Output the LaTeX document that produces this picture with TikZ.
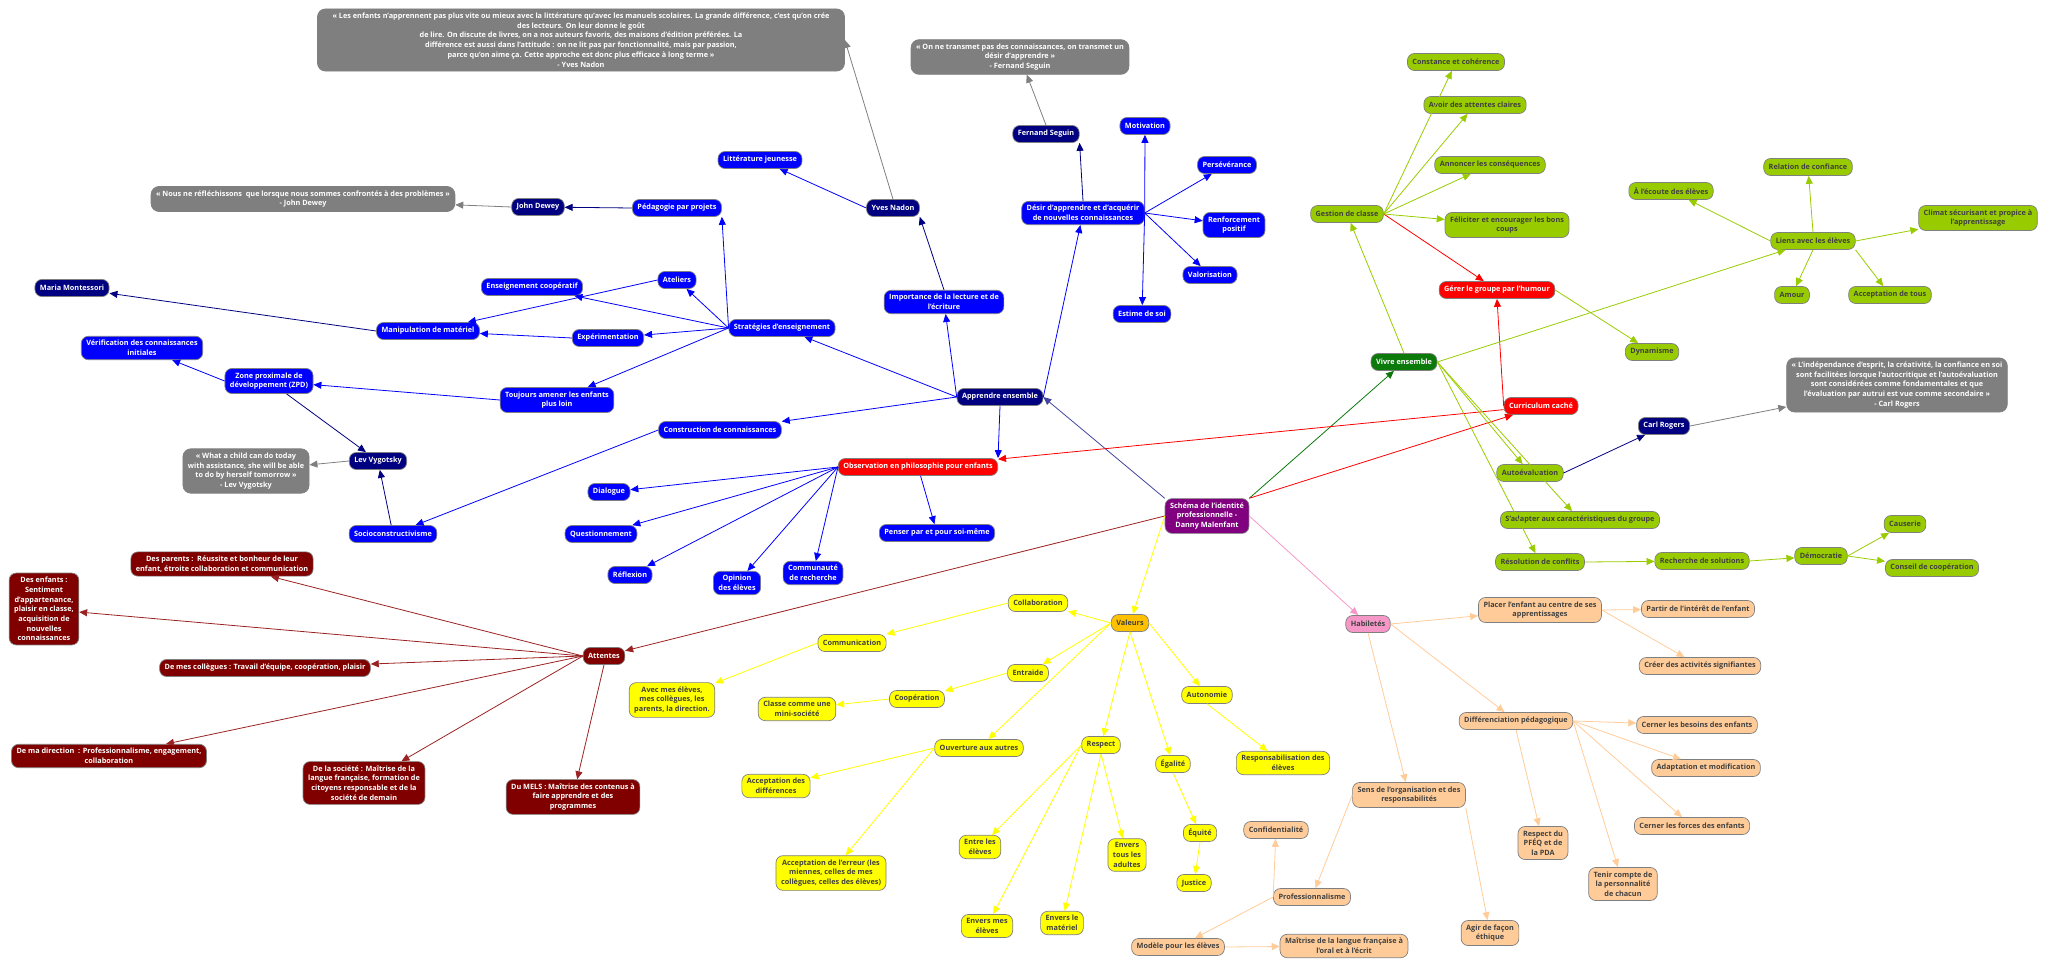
\documentclass[tikz,border=0pt]{standalone}
\usepackage{fontspec}
\setmainfont{Open Sans}
\usetikzlibrary{arrows.meta}

\definecolor{boxline}{HTML}{7F7F7F}
\definecolor{cnavy}{HTML}{000080}
\definecolor{cblue}{HTML}{0000FF}
\definecolor{cquote}{HTML}{7F7F7F}
\definecolor{cred}{HTML}{FF0000}
\definecolor{cmaroon}{HTML}{800000}
\definecolor{cmaroonline}{HTML}{9A2222}
\definecolor{croot}{HTML}{800080}
\definecolor{cgreen}{HTML}{0B7A0B}
\definecolor{clime}{HTML}{99CC00}
\definecolor{cyellow}{HTML}{FFFF00}
\definecolor{camber}{HTML}{FFC000}
\definecolor{cpink}{HTML}{F598C8}
\definecolor{cpeach}{HTML}{FFCC99}
\definecolor{cslate}{HTML}{4444A0}
\definecolor{darktext}{HTML}{404040}

\tikzset{
  box/.style={draw=boxline, line width=0.7pt, rounded corners=7pt, inner xsep=5pt, inner ysep=4pt,
    minimum height=17pt, align=center, font=\bfseries\fontsize{7.3}{9.7}\selectfont},
  navybox/.style={box, fill=cnavy, text=white},
  bluebox/.style={box, fill=cblue, text=white},
  quotebox/.style={box, fill=cquote, text=white, rounded corners=8pt},
  redbox/.style={box, fill=cred, text=white},
  maroonbox/.style={box, fill=cmaroon, text=white},
  rootbox/.style={box, fill=croot, text=white},
  greenbox/.style={box, fill=cgreen, text=white},
  limebox/.style={box, fill=clime, text=darktext},
  yellowbox/.style={box, fill=cyellow, text=darktext},
  amberbox/.style={box, fill=camber, text=darktext},
  pinkbox/.style={box, fill=cpink, text=darktext},
  peachbox/.style={box, fill=cpeach, text=darktext},
  link/.style={line width=0.8pt, -{Triangle[length=8pt,width=7pt]}},
  navylink/.style={link, cnavy},
  bluelink/.style={link, cblue},
  graylink/.style={link, cquote},
  redlink/.style={link, cred},
  maroonlink/.style={link, cmaroonline},
  greenlink/.style={link, cgreen},
  limelink/.style={link, clime},
  yellowlink/.style={link, cyellow},
  pinklink/.style={link, cpink},
  peachlink/.style={link, cpeach},
}

\begin{document}
\begin{tikzpicture}[x=1pt, y=-1pt]
  \useasboundingbox (0, 0) rectangle (2048, 968);

  % centre
  \node [rootbox] (schema) at (1207, 516) {Schéma de l'identité\\professionnelle -\\Danny Malenfant};

  % apprendre ensemble
  \node [navybox] (appr) at (1000, 397) {Apprendre ensemble};
  \node [bluebox] (strat) at (782, 328) {Stratégies d'enseignement};
  \node [bluebox] (lecture) at (944, 302) {Importance de la lecture et de\\l'écriture};
  \node [bluebox] (desir) at (1083, 213) {Désir d'apprendre et d'acquérir\\de nouvelles connaissances};
  \node [bluebox] (constr) at (720, 430) {Construction de connaissances};
  \node [redbox] (obs) at (918, 467) {Observation en philosophie pour enfants};

  \node [navybox] (nadon) at (893, 208) {Yves Nadon};
  \node [bluebox] (litt) at (760, 160) {Littérature jeunesse};
  \node [quotebox, minimum width=527pt] (qnadon) at (581, 40) {« Les enfants n'apprennent pas plus vite ou mieux avec la littérature qu'avec les manuels scolaires. La grande différence, c'est qu'on crée\\des lecteurs. On leur donne le goût\\de lire. On discute de livres, on a nos auteurs favoris, des maisons d'édition préférées. La\\différence est aussi dans l'attitude : on ne lit pas par fonctionnalité, mais par passion,\\parce qu'on aime ça. Cette approche est donc plus efficace à long terme »\\- Yves Nadon};

  \node [bluebox] (projets) at (677, 208) {Pédagogie par projets};
  \node [navybox] (dewey) at (538, 207) {John Dewey};
  \node [quotebox] (qdewey) at (303, 199) {« Nous ne réfléchissons\ \ que lorsque nous sommes confrontés à des problèmes »\\- John Dewey};

  \node [bluebox] (ateliers) at (677, 280) {Ateliers};
  \node [bluebox] (enscoop) at (532, 287) {Enseignement coopératif};
  \node [bluebox] (exper) at (608, 338) {Expérimentation};
  \node [bluebox] (toujours) at (557, 400) {Toujours amener les enfants\\plus loin};
  \node [bluebox] (manip) at (428, 331) {Manipulation de matériel};
  \node [navybox] (montessori) at (72, 288) {Maria Montessori};
  \node [bluebox] (zpd) at (269, 381) {Zone proximale de\\développement (ZPD)};
  \node [bluebox] (verif) at (142, 348) {Vérification des connaissances\\initiales};
  \node [navybox] (lev) at (378, 461) {Lev Vygotsky};
  \node [quotebox] (qlev) at (246, 471) {« What a child can do today\\with assistance, she will be able\\to do by herself tomorrow »\\- Lev Vygotsky};
  \node [bluebox] (socio) at (393, 534) {Socioconstructivisme};

  \node [navybox] (seguin) at (1046, 134) {Fernand Seguin};
  \node [quotebox] (qseguin) at (1020, 57) {« On ne transmet pas des connaissances, on transmet un\\désir d'apprendre »\\- Fernand Seguin};
  \node [bluebox] (motiv) at (1145, 126) {Motivation};
  \node [bluebox] (perse) at (1227, 165) {Persévérance};
  \node [bluebox] (renfo) at (1234, 225) {Renforcement\\positif};
  \node [bluebox] (valo) at (1210, 275) {Valorisation};
  \node [bluebox] (estime) at (1142, 314) {Estime de soi};

  \node [bluebox] (dialogue) at (609, 492) {Dialogue};
  \node [bluebox] (question) at (601, 534) {Questionnement};
  \node [bluebox] (reflexion) at (630, 575) {Réflexion};
  \node [bluebox] (opinion) at (737, 583) {Opinion\\des élèves};
  \node [bluebox] (commu) at (813, 573) {Communauté\\de recherche};
  \node [bluebox] (penser) at (937, 533) {Penser par et pour soi-même};

  % vivre ensemble
  \node [greenbox] (vivre) at (1404, 362) {Vivre ensemble};
  \node [redbox] (curri) at (1541, 406) {Curriculum caché};
  \node [redbox] (humour) at (1497, 290) {Gérer le groupe par l'humour};
  \node [limebox] (gestion) at (1347, 214) {Gestion de classe};
  \node [limebox] (constance) at (1456, 62) {Constance et cohérence};
  \node [limebox] (claires) at (1475, 105) {Avoir des attentes claires};
  \node [limebox] (annoncer) at (1490, 165) {Annoncer les conséquences};
  \node [limebox] (feliciter) at (1507, 225) {Féliciter et encourager les bons\\coups};
  \node [limebox] (dynam) at (1652, 352) {Dynamisme};
  \node [limebox] (liens) at (1813, 241) {Liens avec les élèves};
  \node [limebox] (relation) at (1808, 167) {Relation de confiance};
  \node [limebox] (ecoute) at (1671, 191) {À l'écoute des élèves};
  \node [limebox] (climat) at (1978, 218) {Climat sécurisant et propice à\\l'apprentissage};
  \node [limebox] (amour) at (1792, 295) {Amour};
  \node [limebox] (acctous) at (1890, 295) {Acceptation de tous};
  \node [limebox] (autoeval) at (1530, 473) {Autoévaluation};
  \node [navybox] (rogers) at (1664, 426) {Carl Rogers};
  \node [quotebox] (qrogers) at (1897, 385) {« L'indépendance d'esprit, la créativité, la confiance en soi\\sont facilitées lorsque l'autocritique et l'autoévaluation\\sont considérées comme fondamentales et que\\l'évaluation par autrui est vue comme secondaire »\\- Carl Rogers};
  \node [limebox] (adapter) at (1580, 520) {S'adapter aux caractéristiques du groupe};
  \node [limebox] (resol) at (1540, 562) {Résolution de conflits};
  \node [limebox] (recherche) at (1702, 561) {Recherche de solutions};
  \node [limebox] (democ) at (1821, 556) {Démocratie};
  \node [limebox] (causerie) at (1905, 524) {Causerie};
  \node [limebox] (conseil) at (1932, 568) {Conseil de coopération};

  % attentes
  \node [maroonbox] (attentes) at (604, 656) {Attentes};
  \node [maroonbox] (parents) at (222, 564) {Des parents :\ \ Réussite et bonheur de leur\\enfant, étroite collaboration et communication};
  \node [maroonbox] (enfants) at (44, 609) {Des enfants :\\Sentiment\\d'appartenance,\\plaisir en classe,\\acquisition de\\nouvelles\\connaissances};
  \node [maroonbox] (collegues) at (265, 668) {De mes collègues : Travail d'équipe, coopération, plaisir};
  \node [maroonbox] (direction) at (109, 756) {De ma direction\ \ : Professionnalisme, engagement,\\collaboration};
  \node [maroonbox] (societe) at (364, 783) {De la société : Maîtrise de la\\langue française, formation de\\citoyens responsable et de la\\société de demain};
  \node [maroonbox] (mels) at (573, 797) {Du MELS : Maîtrise des contenus à\\faire apprendre et des\\programmes};

  % valeurs
  \node [amberbox] (valeurs) at (1130, 623) {Valeurs};
  \node [yellowbox] (collab) at (1038, 603) {Collaboration};
  \node [yellowbox] (communic) at (852, 643) {Communication};
  \node [yellowbox] (avec) at (672, 700) {Avec mes élèves,\\mes collègues, les\\parents, la direction.};
  \node [yellowbox] (entraide) at (1028, 673) {Entraide};
  \node [yellowbox] (cooper) at (917, 699) {Coopération};
  \node [yellowbox] (classe) at (797, 709) {Classe comme une\\mini-société};
  \node [yellowbox] (ouvert) at (979, 748) {Ouverture aux autres};
  \node [yellowbox] (accdiff) at (776, 786) {Acceptation des\\différences};
  \node [yellowbox] (accerr) at (831, 873) {Acceptation de l'erreur (les\\miennes, celles de mes\\collègues, celles des élèves)};
  \node [yellowbox] (respect) at (1101, 745) {Respect};
  \node [yellowbox] (entre) at (980, 847) {Entre les\\élèves};
  \node [yellowbox] (enversmes) at (987, 926) {Envers mes\\élèves};
  \node [yellowbox] (enversmat) at (1062, 923) {Envers le\\matériel};
  \node [yellowbox] (adultes) at (1127, 855) {Envers\\tous les\\adultes};
  \node [yellowbox] (egalite) at (1173, 764) {Égalité};
  \node [yellowbox] (equite) at (1200, 833) {Équité};
  \node [yellowbox] (justice) at (1194, 883) {Justice};
  \node [yellowbox] (autonomie) at (1207, 695) {Autonomie};
  \node [yellowbox] (respons) at (1283, 763) {Responsabilisation des\\élèves};

  % habiletes
  \node [pinkbox] (habil) at (1368, 624) {Habiletés};
  \node [peachbox] (placer) at (1540, 610) {Placer l'enfant au centre de ses\\apprentissages};
  \node [peachbox] (partir) at (1698, 609) {Partir de l'intérêt de l'enfant};
  \node [peachbox] (creer) at (1700, 666) {Créer des activités signifiantes};
  \node [peachbox] (diff) at (1516, 721) {Différenciation pédagogique};
  \node [peachbox] (besoins) at (1697, 725) {Cerner les besoins des enfants};
  \node [peachbox] (adapt) at (1706, 768) {Adaptation et modification};
  \node [peachbox] (forces) at (1692, 826) {Cerner les forces des enfants};
  \node [peachbox] (tenir) at (1623, 884) {Tenir compte de\\la personnalité\\de chacun};
  \node [peachbox] (pfeq) at (1543, 843) {Respect du\\PFÉQ et de\\la PDA};
  \node [peachbox] (sens) at (1409, 795) {Sens de l'organisation et des\\responsabilités};
  \node [peachbox] (ethique) at (1490, 933) {Agir de façon\\éthique};
  \node [peachbox] (profess) at (1312, 897) {Professionnalisme};
  \node [peachbox] (confid) at (1276, 830) {Confidentialité};
  \node [peachbox] (modele) at (1178, 947) {Modèle pour les élèves};
  \node [peachbox] (maitrise) at (1344, 946) {Maîtrise de la langue française à\\l'oral et à l'écrit};

  % liens apprendre ensemble
  \draw [link, cslate] (schema.north west) -- (appr.east);
  \draw [bluelink] (appr.west) -- (strat);
  \draw [bluelink] (appr.west) -- (lecture);
  \draw [bluelink] (appr.east) -- (desir);
  \draw [bluelink] (appr.west) -- (constr);
  \draw [bluelink] (appr.south) -- (obs.north east);
  \draw [navylink] (lecture.north) -- (nadon.south east);
  \draw [bluelink] (nadon.west) -- (litt);
  \draw [graylink] (nadon.north) -- (qnadon.east);
  \draw [bluelink] (strat.west) -- (projets.south east);
  \draw [navylink] (projets.west) -- (dewey);
  \draw [graylink] (dewey.west) -- (qdewey);
  \draw [bluelink] (strat.west) -- (ateliers);
  \draw [bluelink] (strat.west) -- (enscoop);
  \draw [bluelink] (strat.west) -- (exper);
  \draw [bluelink] (strat.west) -- (toujours);
  \draw [bluelink] (ateliers.west) -- (manip);
  \draw [bluelink] (exper.west) -- (manip);
  \draw [navylink] (manip.west) -- (montessori);
  \draw [bluelink] (toujours.west) -- (zpd);
  \draw [bluelink] (zpd.west) -- (verif);
  \draw [navylink] (zpd) -- (lev);
  \draw [graylink] (lev.west) -- (qlev);
  \draw [navylink] (socio) -- (lev);
  \draw [bluelink] (constr.west) -- (socio);
  \draw [navylink] (desir.north) -- (seguin.south east);
  \draw [graylink] (seguin.north) -- (qseguin);
  \foreach \child in {motiv, perse, renfo, valo, estime}
    \draw [bluelink] (desir.east) -- (\child);
  \foreach \child in {dialogue, question, reflexion, opinion, commu}
    \draw [bluelink] (obs.west) -- (\child);
  \draw [bluelink] (obs) -- (penser);

  % liens vivre ensemble
  \draw [greenlink] (schema.north east) -- (vivre);
  \draw [redlink] (schema.north east) -- (curri);
  \draw [redlink] (curri) -- (obs);
  \draw [redlink] (curri.west) -- (humour.south);
  \draw [redlink] (gestion.east) -- (humour);
  \draw [limelink] (vivre.north) -- (gestion);
  \foreach \child in {constance, claires, annoncer, feliciter}
    \draw [limelink] (gestion.east) -- (\child);
  \draw [limelink] (humour.east) -- (dynam);
  \draw [limelink] (vivre.east) -- (liens);
  \draw [limelink] (liens.north) -- (relation);
  \draw [limelink] (liens.west) -- (ecoute);
  \draw [limelink] (liens.east) -- (climat);
  \draw [limelink] (liens.south) -- (amour);
  \draw [limelink] (liens.south east) -- (acctous);
  \foreach \child in {autoeval, adapter, resol}
    \draw [limelink] (vivre.east) -- (\child);
  \draw [navylink] (autoeval.east) -- (rogers);
  \draw [graylink] (rogers.east) -- (qrogers);
  \draw [limelink] (resol.east) -- (recherche);
  \draw [limelink] (recherche.east) -- (democ);
  \draw [limelink] (democ.east) -- (causerie);
  \draw [limelink] (democ.east) -- (conseil);

  % liens attentes
  \draw [maroonlink] (schema.west) -- (attentes);
  \foreach \child in {parents, enfants, collegues, direction, societe}
    \draw [maroonlink] (attentes.west) -- (\child);
  \draw [maroonlink] (attentes.south) -- (mels);

  % liens valeurs
  \draw [yellowlink] (schema.west) -- (valeurs);
  \foreach \child in {collab, entraide, ouvert}
    \draw [yellowlink] (valeurs.west) -- (\child);
  \draw [yellowlink] (valeurs.south) -- (respect);
  \draw [yellowlink] (valeurs.south) -- (egalite);
  \draw [yellowlink] (valeurs.east) -- (autonomie);
  \draw [yellowlink] (collab.west) -- (communic);
  \draw [yellowlink] (communic.west) -- (avec);
  \draw [yellowlink] (entraide.west) -- (cooper);
  \draw [yellowlink] (cooper.west) -- (classe);
  \draw [yellowlink] (ouvert.west) -- (accdiff);
  \draw [yellowlink] (ouvert.west) -- (accerr);
  \draw [yellowlink] (respect.west) -- (entre);
  \draw [yellowlink] (respect.west) -- (enversmes);
  \draw [yellowlink] (respect.south) -- (enversmat);
  \draw [yellowlink] (respect.south) -- (adultes);
  \draw [yellowlink] (egalite.south) -- (equite);
  \draw [yellowlink] (equite.south) -- (justice);
  \draw [yellowlink] (autonomie.south) -- (respons);

  % liens habiletes
  \draw [pinklink] (schema.east) -- (habil);
  \draw [peachlink] (habil.east) -- (placer);
  \draw [peachlink] (habil.east) -- (diff);
  \draw [peachlink] (habil.south) -- (sens);
  \draw [peachlink] (placer.east) -- (partir);
  \draw [peachlink] (placer.east) -- (creer);
  \foreach \child in {besoins, adapt, forces, tenir}
    \draw [peachlink] (diff.east) -- (\child);
  \draw [peachlink] (diff.south) -- (pfeq);
  \draw [peachlink] (sens.west) -- (profess);
  \draw [peachlink] (sens.south east) -- (ethique);
  \draw [peachlink] (profess.west) -- (confid);
  \draw [peachlink] (profess.west) -- (modele);
  \draw [peachlink] (modele.east) -- (maitrise);
\end{tikzpicture}
\end{document}
